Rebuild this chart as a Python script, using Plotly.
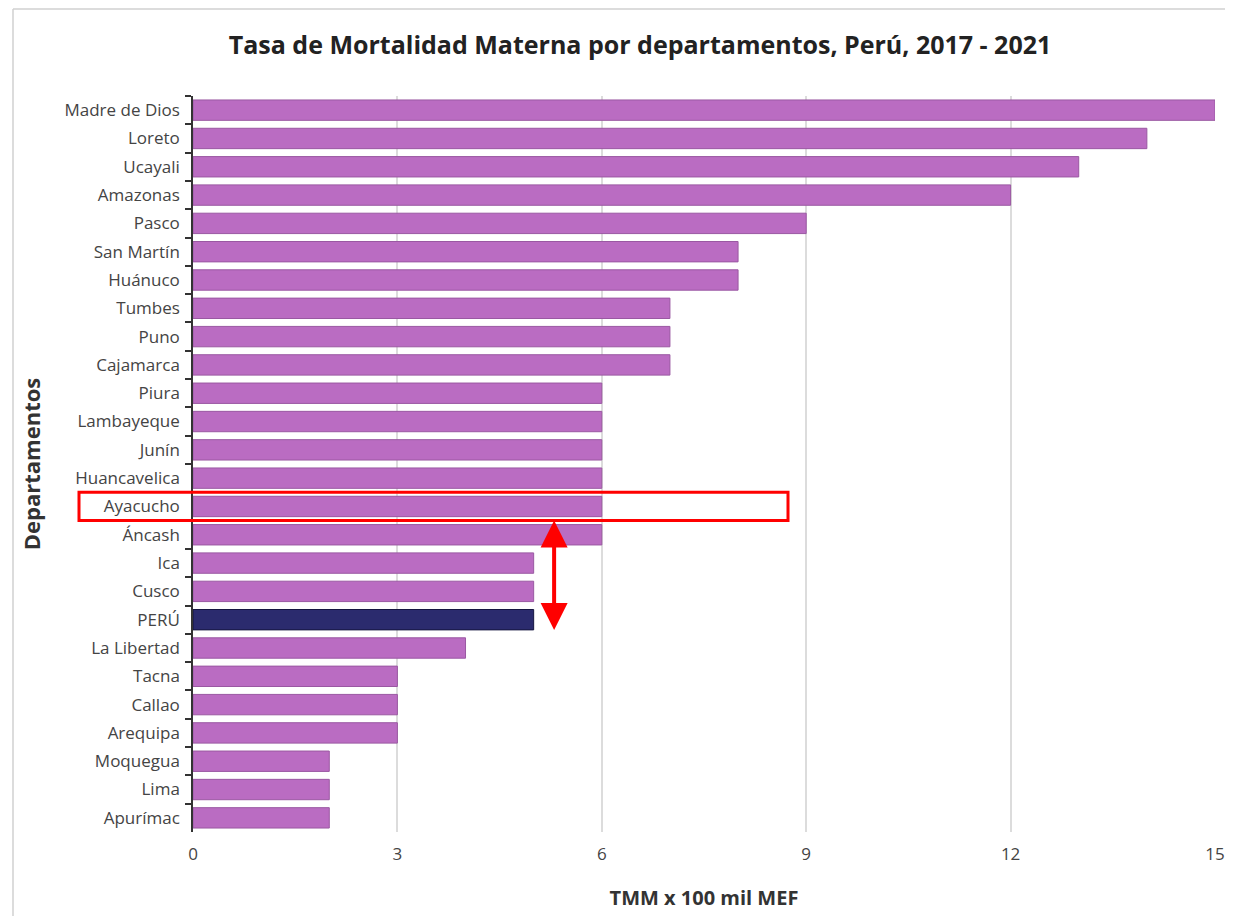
import plotly.graph_objects as go

departamentos = ["Madre de Dios", "Loreto", "Ucayali", "Amazonas", "Pasco", "San Martín",
                 "Huánuco", "Tumbes", "Puno", "Cajamarca", "Piura", "Lambayeque", "Junín",
                 "Huancavelica", "Ayacucho", "Áncash", "Ica", "Cusco", "PERÚ", "La Libertad",
                 "Tacna", "Callao", "Arequipa", "Moquegua", "Lima", "Apurímac"]
tmm = [15, 14, 13, 12, 9, 8, 8, 7, 7, 7, 6, 6, 6, 6, 6, 6, 5, 5, 5, 4, 3, 3, 3, 2, 2, 2]
x_ticks = [0, 3, 6, 9, 12, 15]

# the page body adds an 8px margin on each side; compensate
OFF = 8
W, H = 1233 - 2 * OFF, 924 - 2 * OFF
ML, MT = 193 - OFF, 96 - OFF
PLOT_R, PLOT_B = 1215 - OFF, 832 - OFF
MR, MB = W - PLOT_R, H - PLOT_B
PW, PH = PLOT_R - ML, PLOT_B - MT

purple = "#BA6CC2"
purple_line = "#9A58A2"
navy = "#2B2B6E"

colors = [navy if d == "PERÚ" else purple for d in departamentos]
lines = ["#15153F" if d == "PERÚ" else purple_line for d in departamentos]

fig = go.Figure()
fig.add_trace(go.Bar(
    x=tmm, y=departamentos, orientation="h",
    marker=dict(color=colors, line=dict(color=lines, width=1)),
    hoverinfo="x+y",
))

font = "Open Sans, Noto Sans, sans-serif"
n = len(departamentos)

fig.update_layout(
    width=W, height=H,
    margin=dict(l=ML, r=MR, t=MT, b=MB, autoexpand=False),
    paper_bgcolor="white", plot_bgcolor="white",
    bargap=0.28,
    showlegend=False,
    title=dict(text="<b>Tasa de Mortalidad Materna por departamentos, Perú, 2017 - 2021</b>",
               x=(640 - OFF) / W, xanchor="center", y=1 - (45 - OFF) / H, yanchor="middle",
               font=dict(family=font, size=25, color="#222")),
    xaxis=dict(range=[0, 15], tickvals=x_ticks, showgrid=True, gridcolor="#DCDCDC",
               gridwidth=1.5, zeroline=False, showline=False, ticks="",
               ticklabelstandoff=10,
               tickfont=dict(family=font, size=17, color="#444"),
               title=dict(text="<b>TMM x 100 mil MEF</b>", standoff=26,
                          font=dict(family=font, size=20, color="#333"))),
    yaxis=dict(type="category", categoryorder="array", categoryarray=departamentos,
               range=[n - 0.5, -0.5], showgrid=False, showline=True, linecolor="#333",
               linewidth=1.5, ticks="outside", tickson="boundaries", ticklen=6,
               tickcolor="#333", tickwidth=1.5, ticklabelstandoff=8,
               tickfont=dict(family=font, size=17, color="#444"),
               title=dict(text="<b>Departamentos</b>", standoff=18,
                          font=dict(family=font, size=22, color="#333"))),
)

def px_x(p):
    return (p - OFF - ML) / PW

def px_y(p):
    return 1 - (p - OFF - MT) / PH

# light frame around the figure
fig.add_shape(type="line", xref="paper", yref="paper", x0=px_x(13), x1=px_x(1240),
              y0=px_y(9), y1=px_y(9), line=dict(color="#D0D0D0", width=1.5))
fig.add_shape(type="line", xref="paper", yref="paper", x0=px_x(13), x1=px_x(13),
              y0=px_y(9), y1=px_y(930), line=dict(color="#D0D0D0", width=1.5))

# highlight Ayacucho
iay = departamentos.index("Ayacucho")
iperu = departamentos.index("PERÚ")
fig.add_shape(type="rect", xref="paper", yref="y", x0=px_x(79), x1=px_x(788),
              y0=iay - 0.5, y1=iay + 0.5, line=dict(color="#FF0000", width=3))

# double arrow between Ayacucho and PERÚ
arrow_x = 5.3
fig.add_annotation(x=arrow_x, y=iay + 0.5, ax=arrow_x, ay=iperu + 0.42,
                   xref="x", yref="y", axref="x", ayref="y", text="",
                   showarrow=True, arrowhead=2, arrowside="end+start",
                   arrowsize=1.35, arrowwidth=4, arrowcolor="#FF0000")

fig.write_html("out.html")
